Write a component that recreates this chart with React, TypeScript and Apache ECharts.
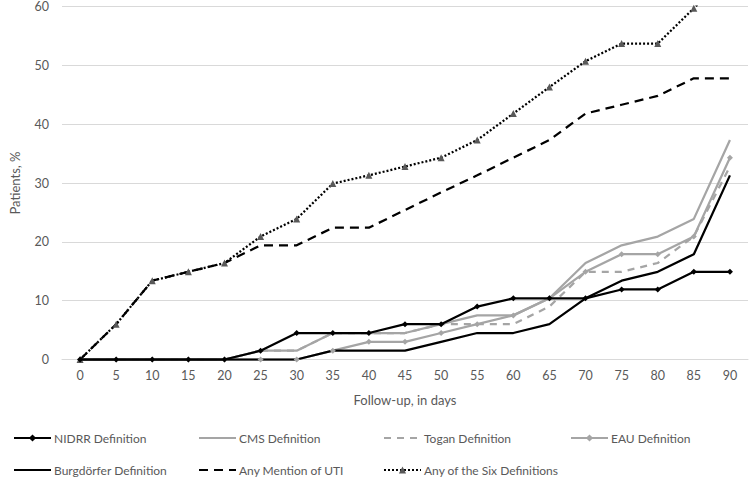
import React, { useEffect, useRef } from "react";
import * as echarts from "echarts";

const days = ["0","5","10","15","20","25","30","35","40","45","50","55","60","65","70","75","80","85","90"];
const nidrr = [0,0,0,0,0,1.5,4.5,4.5,4.5,6.0,6.0,9.0,10.4,10.4,10.4,11.9,11.9,14.9,14.9];
const cms = [0,0,0,0,0,1.5,1.5,4.5,4.5,4.5,6.0,7.5,7.5,10.4,16.4,19.4,20.9,23.9,37.3];
const togan = [0,0,0,0,0,1.5,1.5,4.5,4.5,4.5,6.0,6.0,6.0,9.0,14.9,14.9,16.4,20.9,32.8];
const eau = [0,0,0,0,0,0,0,1.5,3.0,3.0,4.5,6.0,7.5,10.4,14.9,17.9,17.9,20.9,34.3];
const burg = [0,0,0,0,0,0,0,1.5,1.5,1.5,3.0,4.5,4.5,6.0,10.4,13.4,14.9,17.9,31.3];
const anyMention = [0,6.0,13.4,14.9,16.4,19.4,19.4,22.4,22.4,25.4,28.4,31.3,34.3,37.3,41.8,43.3,44.8,47.8,47.8];
const anySix = [0,6.0,13.4,14.9,16.4,20.9,23.9,29.9,31.3,32.8,34.3,37.3,41.8,46.3,50.7,53.7,53.7,59.7,65.7];

const yTicks = { min: 0, max: 60, interval: 10 };
const legendRow1 = ["NIDRR Definition", "CMS Definition", "Togan Definition", "EAU Definition"];
const legendRow2 = ["Burgdörfer Definition", "Any Mention of UTI", "Any of the Six Definitions"];
const noMarker = ["CMS Definition", "Togan Definition", "Burgdörfer Definition", "Any Mention of UTI"];

const FONT = "Lato";
const GRAY = "#A5A5A5";
const TXT = "#595959";

export default function App() {
  const ref = useRef<HTMLDivElement>(null);
  useEffect(() => {
    if (!ref.current) return;
    const chart = echarts.init(ref.current, undefined, { renderer: "svg" });
    const lw = 2.25;
    const legendXs = [13, 198, 383, 570];
    const legends: any[] = [];
    legendRow1.forEach((n, i) => legends.push({ data: [n], left: legendXs[i], top: 432 }));
    legendRow2.forEach((n, i) => legends.push({ data: [n], left: legendXs[i], top: 464 }));
    const legendCommon = {
      itemWidth: 37,
      itemHeight: 9,
      itemGap: 0,
      padding: 0,
      textStyle: { fontFamily: FONT, fontSize: 12, color: TXT, padding: [0, 0, 0, -2] },
    };
    chart.setOption({
      animation: false,
      textStyle: { fontFamily: FONT },
      grid: { left: 53, right: 2, top: 6, bottom: 118.5 },
      legend: legends.map((l) => {
        const hide = noMarker.indexOf(l.data[0]) >= 0;
        return {
          ...legendCommon,
          ...l,
          ...(hide ? { itemStyle: { color: "rgba(0,0,0,0)", borderWidth: 0, opacity: 0 } } : {}),
        };
      }),
      xAxis: {
        type: "category",
        data: days,
        boundaryGap: true,
        name: "Follow-up, in days",
        nameLocation: "middle",
        nameGap: 34,
        nameTextStyle: { fontFamily: FONT, fontSize: 13, color: TXT },
        axisLine: { lineStyle: { color: "#D9D9D9", width: 1 } },
        axisTick: { show: false },
        axisLabel: { fontFamily: FONT, fontSize: 12.5, color: TXT, margin: 9 },
      },
      yAxis: {
        type: "value",
        min: yTicks.min,
        max: yTicks.max,
        interval: yTicks.interval,
        name: "Patients, %",
        nameLocation: "middle",
        nameGap: 41,
        nameTextStyle: { fontFamily: FONT, fontSize: 13, color: TXT },
        axisLine: { show: false },
        axisTick: { show: false },
        axisLabel: { fontFamily: FONT, fontSize: 12.5, color: TXT, margin: 13 },
        splitLine: { lineStyle: { color: "#D9D9D9", width: 1 } },
      },
      series: [
        {
          name: "NIDRR Definition", type: "line", data: nidrr,
          symbol: "diamond", symbolSize: 6,
          itemStyle: { color: "#000" },
          lineStyle: { color: "#000", width: lw },
          z: 5,
        },
        {
          name: "CMS Definition", type: "line", data: cms, symbol: "none",
          itemStyle: { color: GRAY },
          lineStyle: { color: GRAY, width: lw },
        },
        {
          name: "Togan Definition", type: "line", data: togan, symbol: "none",
          itemStyle: { color: GRAY },
          lineStyle: { color: GRAY, width: lw, type: [7, 6] },
        },
        {
          name: "EAU Definition", type: "line", data: eau,
          symbol: "diamond", symbolSize: 6,
          itemStyle: { color: GRAY },
          lineStyle: { color: GRAY, width: lw },
        },
        {
          name: "Burgdörfer Definition", type: "line", data: burg, symbol: "none",
          itemStyle: { color: "#000" },
          lineStyle: { color: "#000", width: lw },
        },
        {
          name: "Any Mention of UTI", type: "line", data: anyMention, symbol: "none",
          itemStyle: { color: "#000" },
          lineStyle: { color: "#000", width: lw, type: [9, 6] },
        },
        {
          name: "Any of the Six Definitions", type: "line", data: anySix,
          symbol: "triangle", symbolSize: 7,
          itemStyle: { color: TXT },
          lineStyle: { color: "#000", width: lw, type: [2, 2] },
          clip: true,
        },
      ],
    });
    return () => chart.dispose();
  }, []);
  return <div ref={ref} style={{ width: 750, height: 478, position: "absolute", left: 0, top: 0 }} />;
}
